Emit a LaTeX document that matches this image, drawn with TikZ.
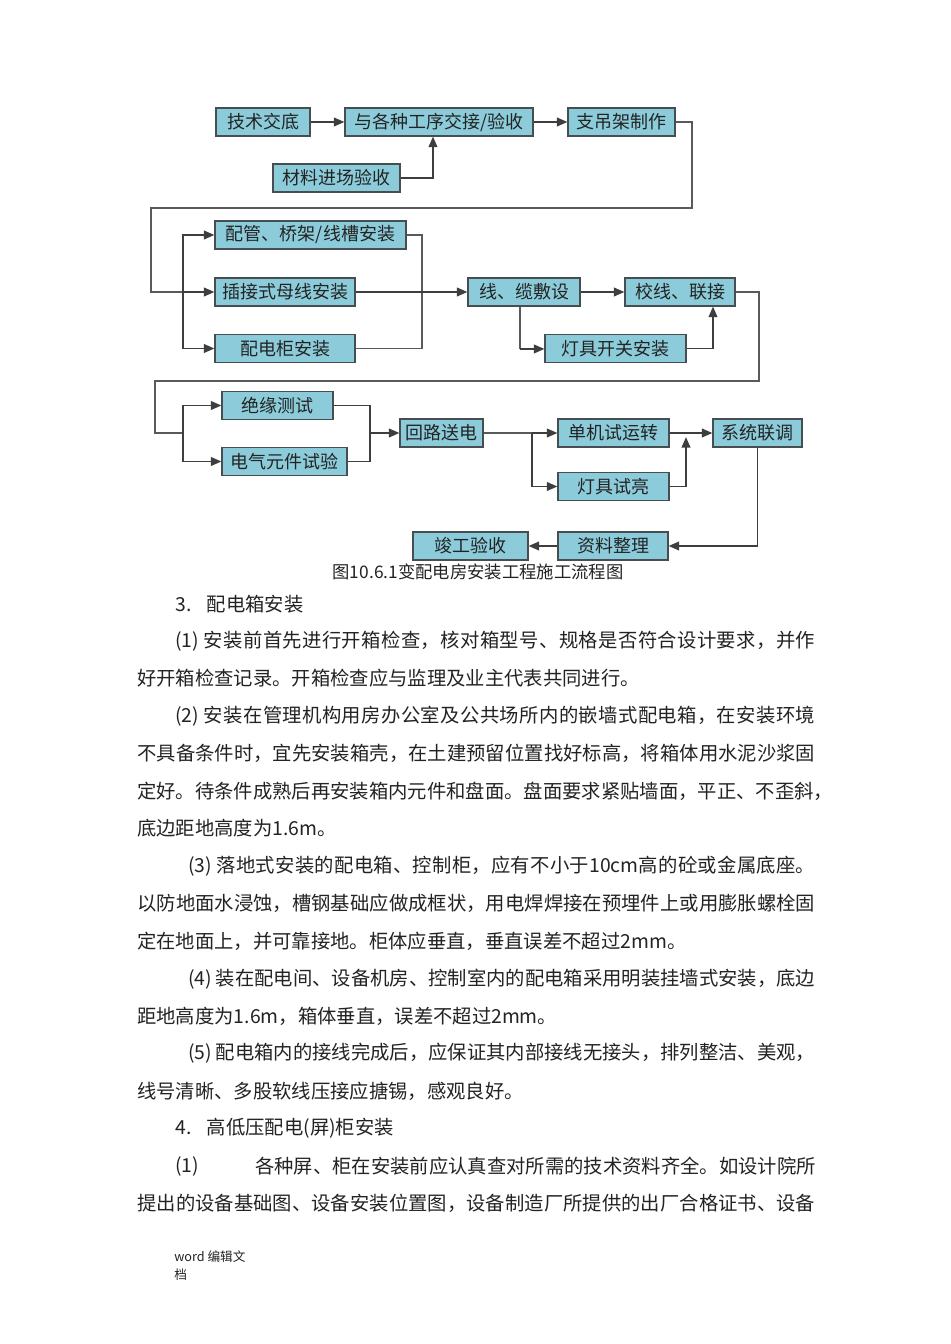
\documentclass[tikz,border=0pt]{standalone}
\usepackage{fontspec}
\setmainfont{Noto Sans CJK SC}
\usetikzlibrary{arrows.meta}
\definecolor{boxF}{RGB}{140,204,218}
\definecolor{boxD}{RGB}{70,78,82}
\definecolor{lineD}{RGB}{62,62,62}
\definecolor{lineT}{RGB}{90,90,90}
\definecolor{txtD}{RGB}{35,35,35}
% a full line of text, spread out to the given width
\ExplSyntaxOn
\NewDocumentCommand \spread { m m }
  { \makebox[#1][s]{ \tl_map_inline:nn {#2} { ##1 \hfil } \unskip } }
\ExplSyntaxOff

\begin{document}
\begin{tikzpicture}[x=0.75pt,y=-0.75pt,>={Triangle[length=8pt,width=6.5pt]},
  box/.style={draw=boxD,fill=boxF,line width=0.8pt,minimum height=21pt,inner sep=0pt,
    text=txtD,font=\fontsize{13.5}{16}\selectfont},
  flow/.style={->,draw=lineD,line width=1.4pt},
  link/.style={draw=lineD,line width=1.4pt},
  thin/.style={draw=lineT,line width=0.9pt},
  body/.style={anchor=west,inner sep=0pt,text=txtD,font=\fontsize{14.5}{17}\selectfont}]
\useasboundingbox[fill=white] (0,0) rectangle (950,1344);

% flow chart, row 1
\node[box,minimum width=70.5pt] (jsjd) at (263,122) {技术交底};
\node[box,minimum width=141pt] (gxjj) at (439,122) {与各种工序交接/验收};
\node[box,minimum width=80.25pt] (zdj) at (621.5,122) {支吊架制作};
\node[box,minimum width=95.25pt] (clys) at (336.5,178) {材料进场验收};
\draw[flow] (jsjd) -- (gxjj);
\draw[flow] (gxjj) -- (zdj);
\draw[flow] (clys.east) -| ([xshift=-4.5pt]gxjj.south);

% row 2
\node[box,minimum width=143.25pt] (pg) at (310.5,235) {配管、桥架/线槽安装};
\node[box,minimum width=105pt] (cj) at (285,292) {插接式母线安装};
\node[box,minimum width=105pt] (pdg) at (285,348.5) {配电柜安装};
\node[box,minimum width=84pt] (xl) at (524,292) {线、缆敷设};
\node[box,minimum width=82.5pt] (jx) at (680,292) {校线、联接};
\node[box,minimum width=105.75pt] (dkg) at (615.5,348.5) {灯具开关安装};
\coordinate (s1) at (183,292);
\draw[thin] (zdj.east) -- (692,122) |- (151,208) |- (s1);
\draw[flow] (s1) -- (cj);
\draw[flow] (s1) |- (pg);
\draw[flow] (s1) |- (pdg);
\draw[thin] (pg.east) -- (422,235) |- (pdg.east);
\draw[flow] (cj) -- (xl);
\draw[flow] (xl) -- (jx);
\draw[thin] ([xshift=-3pt]xl.south) -- ++(0,42.5);
\draw[flow] ([xshift=-3pt,yshift=-31.9pt]xl.south) -- (dkg);
\draw[flow] (dkg.east) -| ([xshift=24.75pt]jx.south);

% row 3
\node[box,minimum width=83.25pt] (jy) at (277.5,405.5) {绝缘测试};
\node[box,minimum width=93.75pt] (dq) at (284.5,461.5) {电气元件试验};
\node[box,minimum width=62.25pt] (hl) at (441.5,433) {回路送电};
\node[box,minimum width=83.25pt] (dj) at (613.5,433) {单机试运转};
\node[box,minimum width=83.25pt] (dl) at (613.5,486.5) {灯具试亮};
\node[box,minimum width=66.75pt] (xt) at (757.5,433) {系统联调};
\coordinate (s2) at (183,433);
\coordinate (s3) at (370,433);
\coordinate (s4) at (532,433);
\coordinate (s5) at (686,437);
\draw[thin] (jx.east) -- (759,292) |- (155,381) |- (s2);
\draw[flow] (s2) |- (jy);
\draw[flow] (s2) |- (dq);
\draw[link] (jy.east) -| (s3) |- (dq.east);
\draw[flow] (s3) -- (hl);
\draw[thin] (hl.east) -- (s4) -- (532,486.5);
\draw[flow] (s4) -- (dj);
\draw[flow] (s4) |- (dl);
\draw[flow] (dl.east) -| (s5);
\draw[flow] (dj) -- (xt);

% row 4
\node[box,minimum width=82.5pt] (zl) at (613,546) {资料整理};
\node[box,minimum width=86.25pt] (jg) at (470.5,546) {竣工验收};
\draw[flow] (xt.south) |- (zl);
\draw[flow] (zl) -- (jg);
\node[text=txtD,font=\fontsize{13}{15}\selectfont] (cap) at (478,572) {图10.6.1变配电房安装工程施工流程图};

% text
\node[body] (t3) at (175,604) {3.\hspace{0.8em}配电箱安装};
\node[body] (a1) at (175,641) {\spread{480pt}{{(1)\ }安装前首先进行开箱检查，核对箱型号、规格是否符合设计要求，并作}};
\node[body] (a1b) at (137,678) {好开箱检查记录。开箱检查应与监理及业主代表共同进行。};
\node[body] (a2) at (175,716) {\spread{480pt}{{(2)\ }安装在管理机构用房办公室及公共场所内的嵌墙式配电箱，在安装环境}};
\node[body] (a2b) at (137,753) {\spread{508.5pt}{不具备条件时，宜先安装箱壳，在土建预留位置找好标高，将箱体用水泥沙浆固}};
\node[body] (a2c) at (137,791) {\spread{508.5pt}{定好。待条件成熟后再安装箱内元件和盘面。盘面要求紧贴墙面，平正、不歪斜，}};
\node[body] (a2d) at (137,828) {底边距地高度为1.6m。};
\node[body] (a3) at (188,866) {\spread{470.25pt}{{(3)\ }落地式安装的配电箱、控制柜，应有不小于{10cm}高的砼或金属底座。}};
\node[body] (a3b) at (137,903) {\spread{508.5pt}{以防地面水浸蚀，槽钢基础应做成框状，用电焊焊接在预埋件上或用膨胀螺栓固}};
\node[body] (a3c) at (137,941) {定在地面上，并可靠接地。柜体应垂直，垂直误差不超过2mm。};
\node[body] (a4) at (188,979) {\spread{470.25pt}{{(4)\ }装在配电间、设备机房、控制室内的配电箱采用明装挂墙式安装，底边}};
\node[body] (a4b) at (137,1016) {距地高度为1.6m，箱体垂直，误差不超过2mm。};
\node[body] (a5) at (188,1053) {\spread{470.25pt}{{(5)\ }配电箱内的接线完成后，应保证其内部接线无接头，排列整洁、美观，}};
\node[body] (a5b) at (137,1091) {线号清晰、多股软线压接应搪锡，感观良好。};
\node[body] (t4) at (175,1128) {4.\hspace{0.8em}高低压配电(屏)柜安装};
\node[body] (b1n) at (175,1166) {(1)};
\node[body] (b1) at (255,1166) {\spread{420pt}{各种屏、柜在安装前应认真查对所需的技术资料齐全。如设计院所}};
\node[body] (b1b) at (137,1203) {\spread{508.5pt}{提出的设备基础图、设备安装位置图，设备制造厂所提供的出厂合格证书、设备}};

% footer
\node[anchor=north west,inner sep=0pt,align=left,text=txtD,
  font=\fontsize{9.5}{14}\selectfont] (ft) at (174,1250) {word 编辑文\\档};
\end{tikzpicture}
\end{document}
